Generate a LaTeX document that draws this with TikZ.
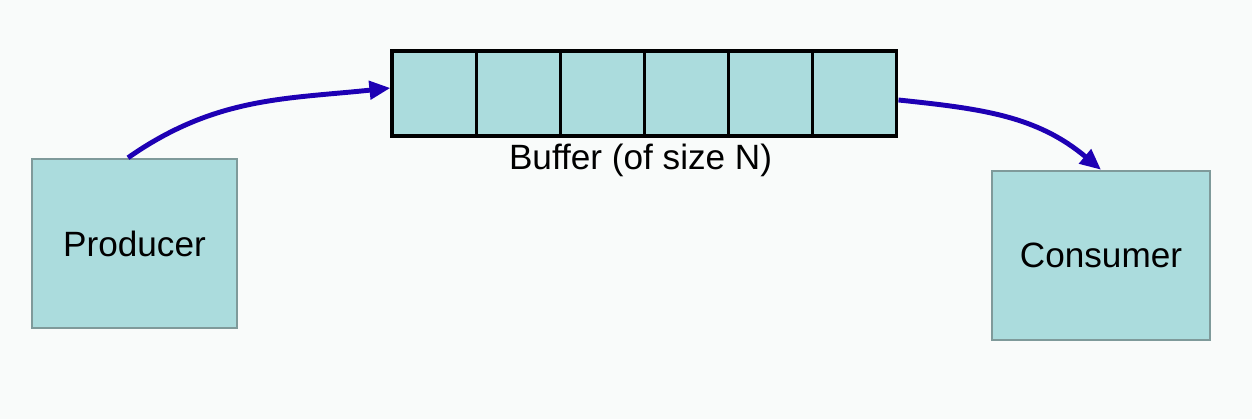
\documentclass[tikz,border=0pt]{standalone}
\usepackage{fontspec}
\setmainfont{Liberation Sans}
\usepackage{tikz}
\usetikzlibrary{positioning}
\usetikzlibrary{arrows.meta}
\definecolor{boxfill}{RGB}{171,220,221}
\definecolor{boxedge}{RGB}{127,154,154}
\definecolor{linkblue}{RGB}{30,0,180}
\definecolor{paper}{RGB}{249,251,250}
\tikzstyle{every link} = []
\tikzstyle{link} = [-{Triangle[length=0.42cm,width=0.36cm]}, draw=linkblue, line width=2.8pt, every link]
\tikzstyle{party} = [draw=boxedge, fill=boxfill, line width=1.4pt, minimum height=3.38cm, font=\fontsize{20}{24}\selectfont]
\tikzstyle{slot} = [draw=black, fill=boxfill, line width=1.8pt, minimum width=1.683cm, minimum height=1.7cm, inner sep=0pt]

\begin{document}
\begin{tikzpicture}
        \fill[paper] (0,0) rectangle (25.04,8.38);
        \useasboundingbox (0,0) rectangle (25.04,8.38);

        \node[party, minimum width=4.1cm] (producer) at (2.69,3.51) {Producer};
        \node[party, minimum width=4.36cm] (consumer) at (22.02,3.27) {Consumer};

        \foreach \i in {1,...,6}
            \node[slot] (c\i) at ({7.84+0.8415+(\i-1)*1.683},6.51) {};
        \node[below=0cm of {[xshift=-0.11cm]c3.south east}, font=\fontsize{20}{24}\selectfont] (bufname) {Buffer (of size N)};

        \path[link] ([xshift=-0.13cm]producer.north) to[out=35, in=186] ([yshift=0.11cm]c1.west);
        \path[link] ([yshift=-0.13cm]c6.east) to[out=-6, in=140] (consumer.north);
    \end{tikzpicture}
\end{document}
